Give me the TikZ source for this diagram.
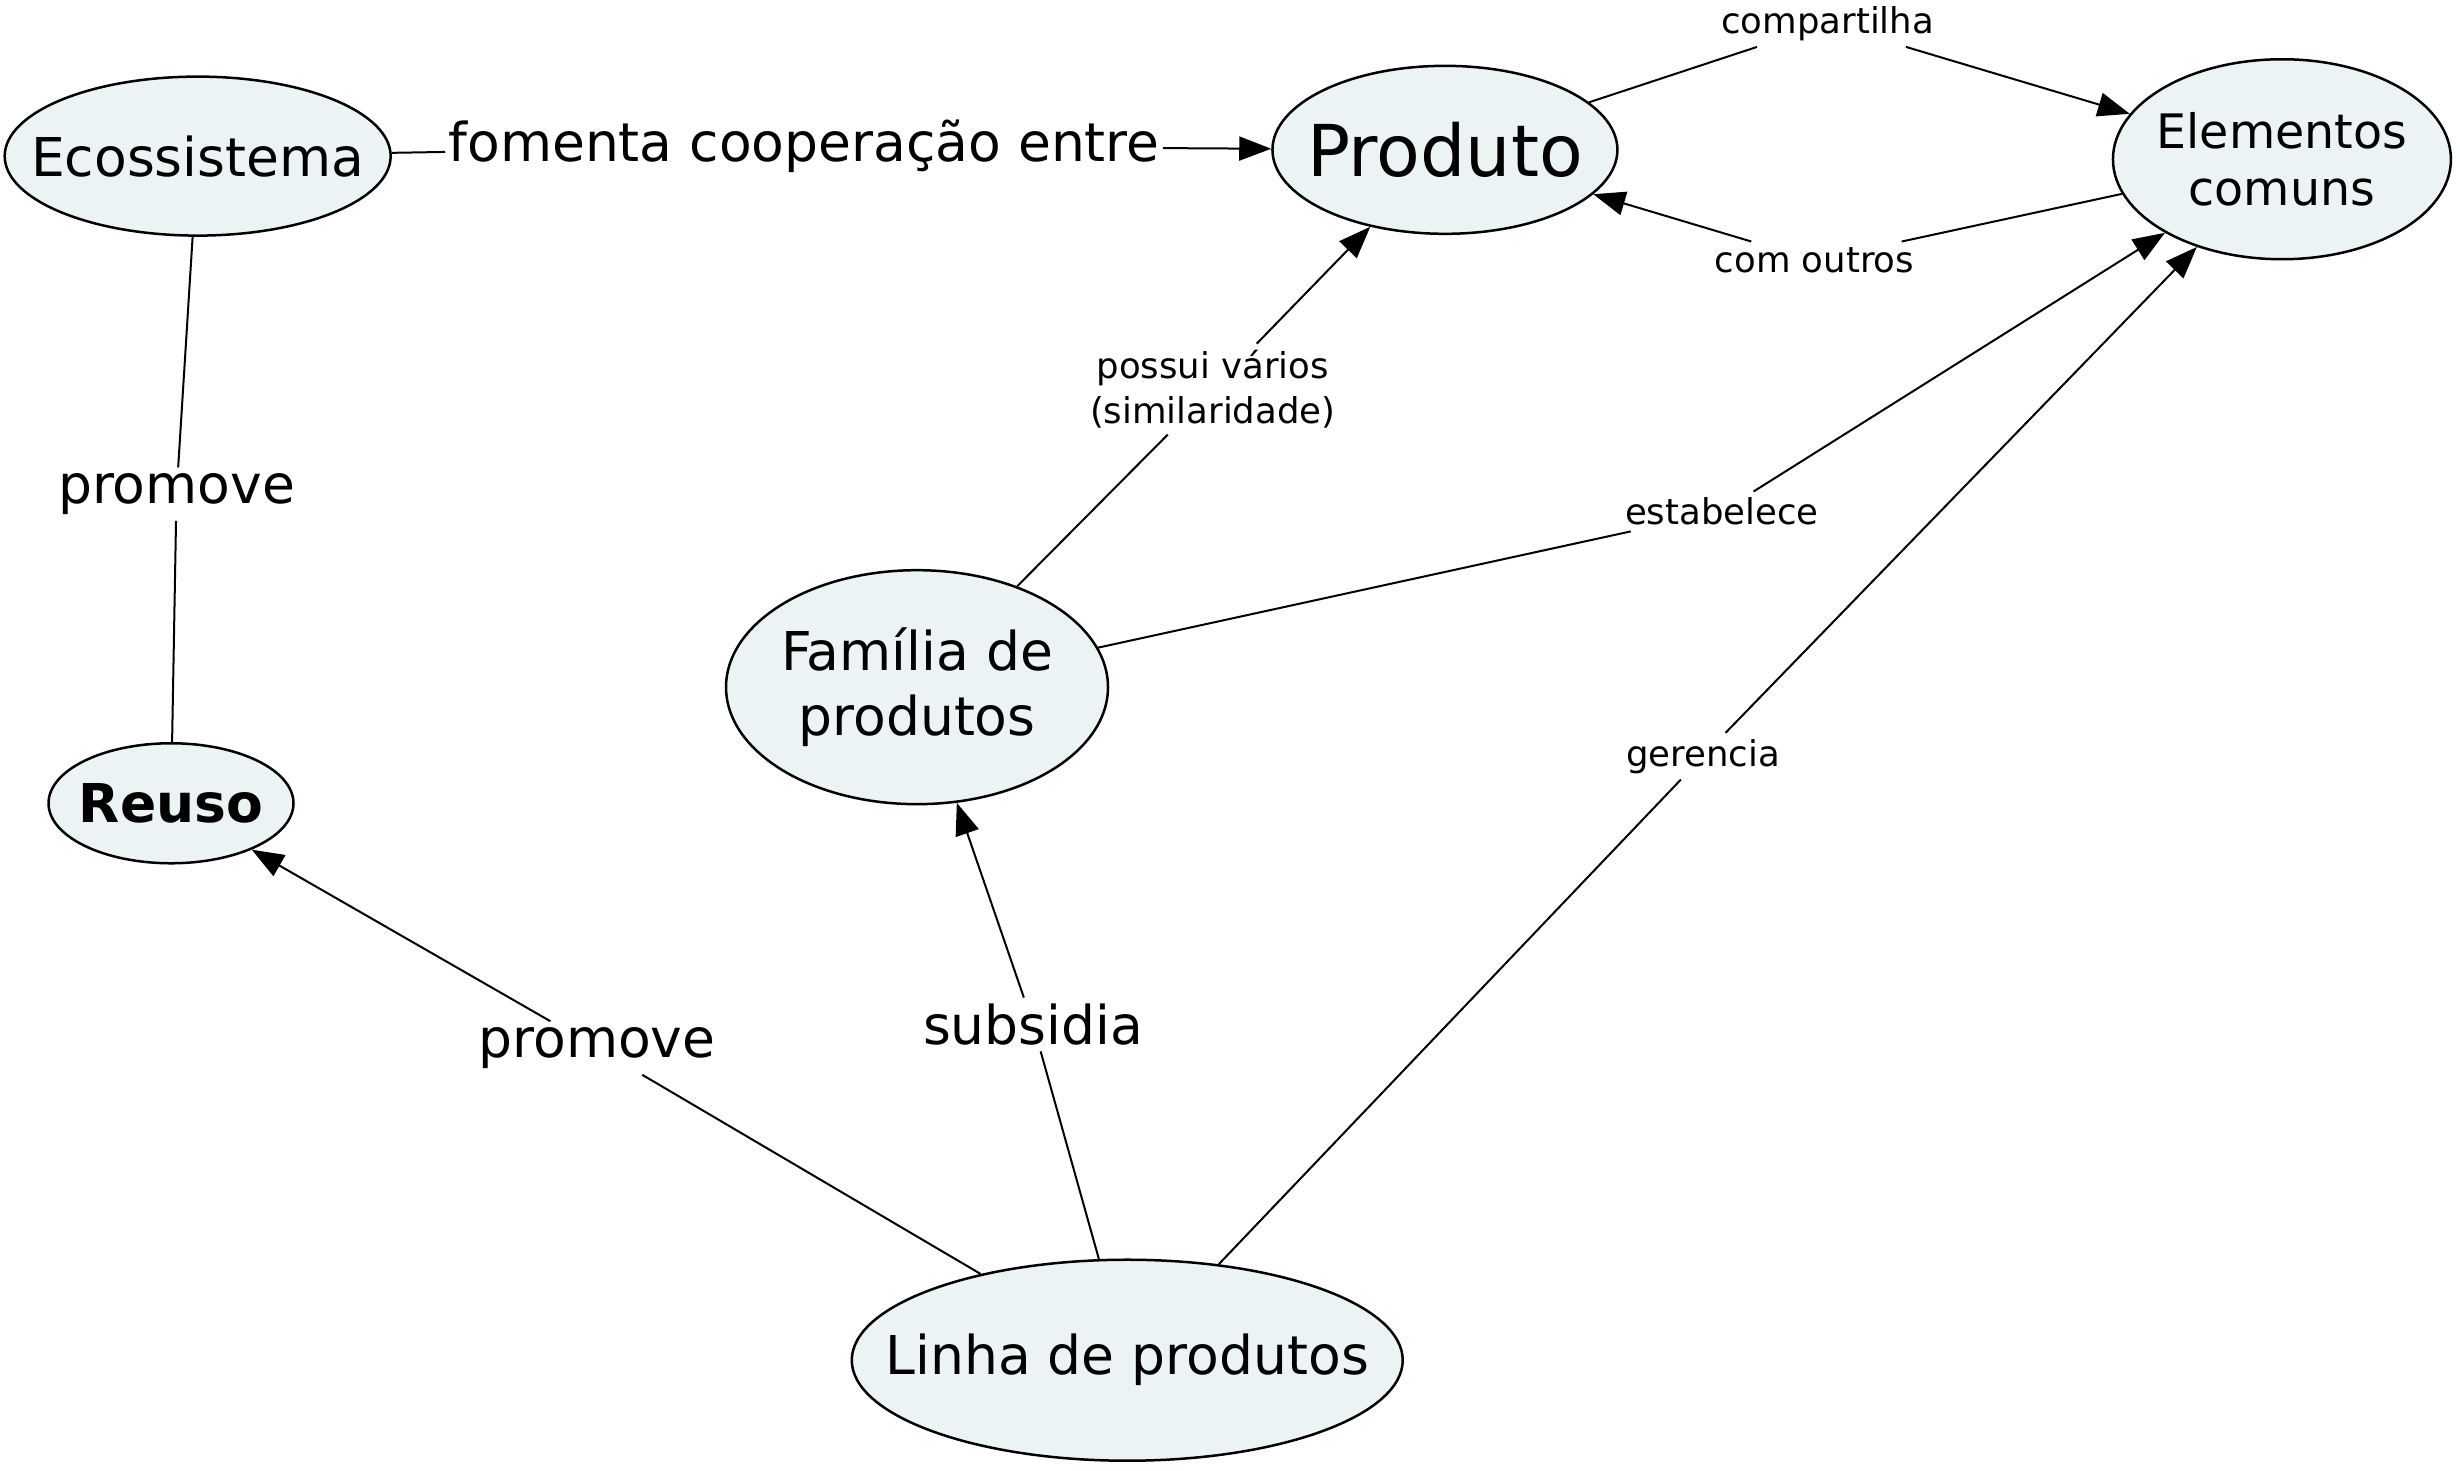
\documentclass[tikz,border=0pt]{standalone}
\usepackage{fontspec}
\setmainfont{DejaVu Sans}
\usetikzlibrary{arrows.meta,shapes.geometric}
\definecolor{nodefill}{RGB}{235,243,245}
\begin{document}
\begin{tikzpicture}[x=1.569pt,y=-1.569pt,
  concept/.style={ellipse, draw, line width=2.5pt, fill=nodefill, inner sep=0pt, align=center},
  bigfont/.style={font=\fontsize{53.5}{64.5}\selectfont},
  lab/.style={inner xsep=3pt, inner ysep=6pt, align=center, font=\fontsize{35.5}{45.5}\selectfont},
  biglab/.style={inner xsep=3pt, inner ysep=6pt, align=center, font=\fontsize{53.5}{64.5}\selectfont},
  conn/.style={line width=2pt},
  arr/.style={conn, -{Triangle[length=32pt,width=24pt]}}
]
\useasboundingbox (0,0) rectangle (1568,937);

% concepts
\node[concept, bigfont, minimum width=386pt, minimum height=159pt] (eco) at (126,99.5) {\makebox[0pt]{Ecossistema}};
\node[concept, font=\fontsize{71.5}{80}\selectfont, minimum width=345pt, minimum height=168pt] (prod) at (921,95.5) {\makebox[0pt]{Produto}};
\node[concept, font=\fontsize{47.5}{56.5}\selectfont, minimum width=338pt, minimum height=200pt] (elem) at (1454.5,101.5) {\makebox[0pt]{Elementos}\\\makebox[0pt]{comuns}};
\node[concept, bigfont, minimum width=382pt, minimum height=234pt] (fam) at (584.5,438) {\makebox[0pt]{Família de}\\\makebox[0pt]{produtos}};
\node[concept, bigfont, minimum width=245pt, minimum height=120pt] (reuso) at (109,512) {\makebox[0pt]{\bfseries Reuso}};
\node[concept, bigfont, minimum width=551pt, minimum height=201pt] (linha) at (718.5,867) {\makebox[0pt]{Linha de produtos}};

% linking phrases
\node[biglab] (fom) at (512.5,93) {fomenta cooperação entre};
\node[biglab] (prom1) at (112.5,315) {promove};
\node[biglab] (prom2) at (380.5,668) {promove};
\node[biglab] (subs) at (658.5,653) {subsidia};
\node[lab] (comp) at (1165,15) {compartilha};
\node[lab] (como) at (1156.5,166) {com outros};
\node[lab] (poss) at (773,248) {possui vários\\(similaridade)};
\node[lab] (estab) at (1097.5,326) {estabelece};
\node[lab] (ger) at (1085.5,482) {gerencia};

% connectors
\draw[conn] (eco) -- (fom);
\draw[arr] (fom) -- (prod);
\draw[conn] (eco) -- (prom1);
\draw[conn] (prom1) -- (reuso);
\draw[conn] (prod) -- (comp);
\draw[arr] (comp) -- (elem);
\draw[conn] (elem) -- (como);
\draw[arr] (como) -- (prod);
\draw[conn] (fam) -- (poss);
\draw[arr] (poss) -- (prod);
\draw[conn] (fam) -- (estab);
\draw[arr] (estab) -- (elem);
\draw[conn] (linha) -- (ger);
\draw[arr] (ger) -- (elem);
\draw[conn] (linha) -- (subs);
\draw[arr] (subs) -- (fam);
\draw[conn] (linha) -- (prom2);
\draw[arr] (prom2) -- (reuso);
\end{tikzpicture}
\end{document}
